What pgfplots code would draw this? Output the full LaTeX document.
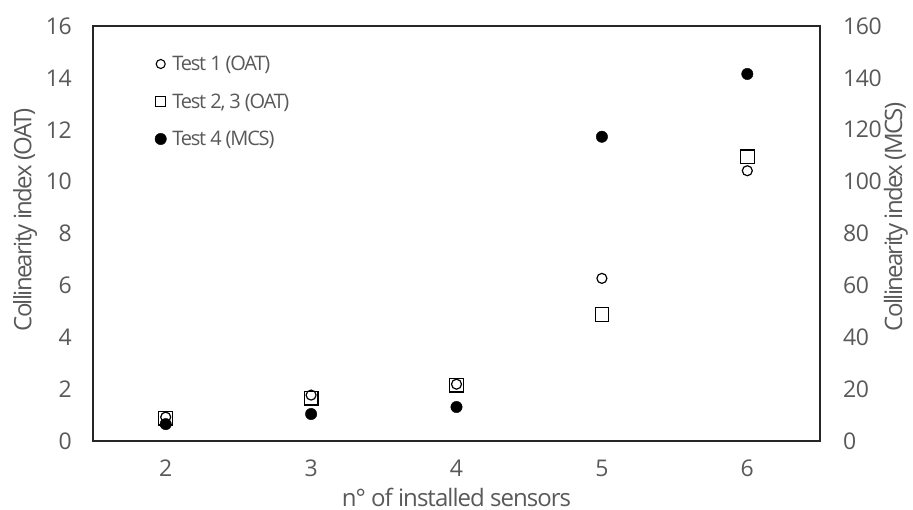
\documentclass[border=0pt]{standalone}
\usepackage{fontspec}
\setmainfont{Open Sans}
\newfontfamily\tickf{Open Sans}[LetterSpace=-2]
\newfontfamily\labf{Open Sans}[LetterSpace=-4]
\newfontfamily\ylabf{Open Sans}[LetterSpace=-7]
\newfontfamily\legf{Open Sans}[LetterSpace=-6]
\usepackage{pgfplots}
\pgfplotsset{compat=1.18}
\definecolor{txt}{HTML}{595959}
\definecolor{axl}{HTML}{262626}
\begin{document}
\begin{tikzpicture}[x=1pt,y=1pt]
\path[use as bounding box] (-93,-69) rectangle (820,441);
\pgfplotsset{
  common/.style={
    at={(0,0)}, anchor=south west, scale only axis,
    width=727pt, height=415pt,
    xmin=1.5, xmax=6.5, ymin=0,
    major tick length=0pt,
    axis line style={axl, line width=1.2pt},
    /pgf/number format/assume math mode=true,
    ticklabel style={font=\tickf\fontsize{23}{23}\selectfont, text=txt, inner sep=0pt},
    ylabel style={font=\ylabf\fontsize{24}{24}\selectfont, text=txt, inner sep=0pt},
    xlabel style={font=\labf\fontsize{24}{24}\selectfont, text=txt, inner sep=0pt},
  }
}
\begin{axis}[common,
  ymax=16, ytick={0,2,...,16}, xtick={2,3,4,5,6},
  ytick pos=left, xtick pos=bottom,
  xticklabel style={anchor=center, yshift=-27pt},
  yticklabel style={anchor=east, xshift=-21pt},
  xlabel={n° of installed sensors},
  ylabel={Collinearity index (OAT)},
  xlabel style={at={(axis description cs:0.5,-0.135)}, anchor=center},
  ylabel style={at={(axis description cs:-0.0935,0.533)}, anchor=center},
]
\addplot[only marks, mark=o, mark size=5pt, line width=1.2pt, black] coordinates {
  (2,0.92) (3,1.77) (4,2.19) (5,6.27) (6,10.42)
};
\addplot[only marks, mark=square, mark size=6.8pt, line width=1.2pt, black] coordinates {
  (2,0.88) (3,1.65) (4,2.15) (5,4.88) (6,10.96)
};
\end{axis}
\begin{axis}[common,
  ymax=160, ytick={0,20,...,160},
  axis x line=none, axis y line*=right,
  yticklabel style={anchor=west, xshift=23pt},
  ylabel={Collinearity index (MCS)},
  ylabel style={at={(axis description cs:1.1045,0.54)}, anchor=center},
  legend style={draw=none, fill=none, at={(rel axis cs:0.085,0.933)}, anchor=north west,
    font=\legf\fontsize{20}{20}\selectfont, text=txt, row sep=17.5pt, inner sep=0pt,
    /tikz/every odd column/.append style={column sep=4pt}},
  legend cell align=left,
  legend image code/.code={\path (0pt,0pt) plot[#1] coordinates {(0pt,0pt)};},
]
\addlegendimage{only marks, mark=o, mark size=4.5pt, line width=1.1pt, black}
\addlegendentry{Test 1 (OAT)}
\addlegendimage{only marks, mark=square, mark size=5pt, line width=1.1pt, black}
\addlegendentry{Test 2, 3 (OAT)}
\addplot[only marks, mark=*, mark size=5.7pt, black] coordinates {
  (2,6.5) (3,10.4) (4,13.1) (5,117.3) (6,141.5)
};
\addlegendentry{Test 4 (MCS)}
\end{axis}
\end{tikzpicture}
\end{document}
